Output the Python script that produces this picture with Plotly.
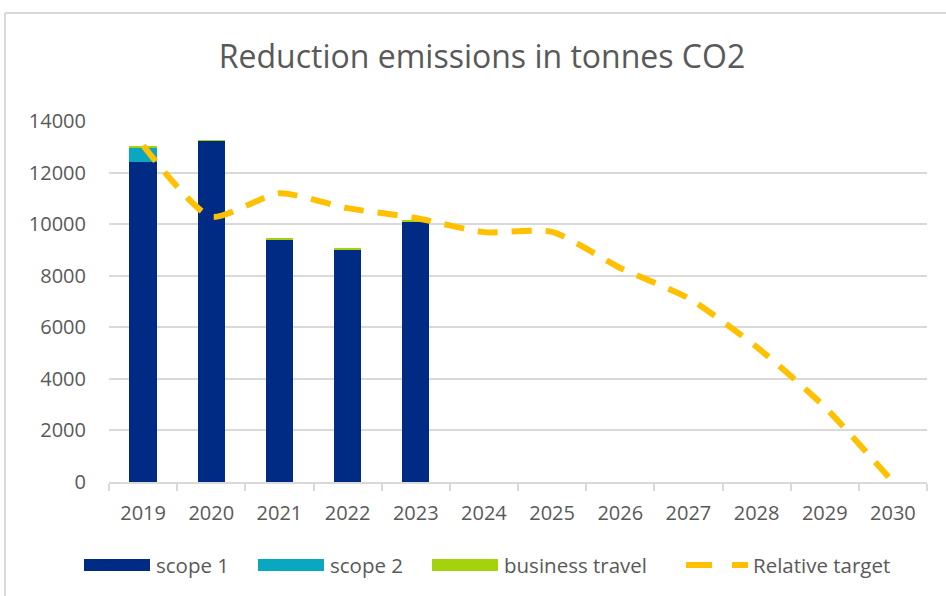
import plotly.graph_objects as go

years = ["2019", "2020", "2021", "2022", "2023", "2024", "2025", "2026", "2027", "2028", "2029", "2030"]
bar_years = ["2019", "2020", "2021", "2022", "2023"]
scope1 = [12400, 13230, 9400, 9000, 10100]
scope2 = [580, 0, 0, 0, 0]
business_travel = [40, 30, 60, 70, 60]
relative_target = [13050, 10290, 11200, 10620, 10240, 9690, 9700, 8300, 7130, 5240, 2910, 0]
y_ticks = [0, 2000, 4000, 6000, 8000, 10000, 12000, 14000]

series_names = ["scope 1", "scope 2", "business travel", "Relative target"]
colors = ["#002B84", "#0AA7C1", "#A4D30E", "#FFC000"]

font_family = "'Open Sans', sans-serif"
grey = "#595959"
W, H = 946, 596
L, R, T, B = 109, 19, 121, 114
PW, PH = W - L - R, H - T - B


def px_x(p):
    return (p - L) / PW


def px_y(p):
    return (H - B - p) / PH


fig = go.Figure()
for name, vals, col in zip(series_names[:3], [scope1, scope2, business_travel], colors[:3]):
    fig.add_trace(go.Bar(x=bar_years, y=vals, name=name, showlegend=False,
                         marker=dict(color=col, line=dict(width=0))))
fig.add_trace(go.Scatter(x=years, y=relative_target, name=series_names[3], mode="lines", showlegend=False,
                         line=dict(color=colors[3], width=6, dash="20px,14px", shape="spline", smoothing=0.6)))

# manual legend (wide Excel-style swatches)
shapes = []
annotations = []
legend_y = 565
swatch_x = [84, 258, 432]
for i in range(3):
    x0 = swatch_x[i]
    shapes.append(dict(type="rect", xref="paper", yref="paper",
                       x0=px_x(x0), x1=px_x(x0 + 66), y0=px_y(legend_y - 6), y1=px_y(legend_y + 6),
                       fillcolor=colors[i], line=dict(width=0)))
    annotations.append(dict(text=series_names[i], xref="paper", yref="paper", x=px_x(x0 + 70), y=px_y(legend_y),
                            xanchor="left", yanchor="middle", showarrow=False,
                            font=dict(size=20.5, color=grey, family=font_family)))
for d0, d1 in [(686, 712), (732, 748)]:
    shapes.append(dict(type="line", xref="paper", yref="paper", x0=px_x(d0), x1=px_x(d1),
                       y0=px_y(legend_y), y1=px_y(legend_y), line=dict(color=colors[3], width=6)))
annotations.append(dict(text=series_names[3], xref="paper", yref="paper", x=px_x(751), y=px_y(legend_y),
                        xanchor="left", yanchor="middle", showarrow=False,
                        font=dict(size=20.5, color=grey, family=font_family)))

# outer chart border (top and left, as in the screenshot)
shapes.append(dict(type="line", xref="paper", yref="paper", x0=px_x(5), x1=px_x(960),
                   y0=px_y(13), y1=px_y(13), line=dict(color="#D9D9D9", width=2)))
shapes.append(dict(type="line", xref="paper", yref="paper", x0=px_x(5), x1=px_x(5),
                   y0=px_y(13), y1=px_y(610), line=dict(color="#D9D9D9", width=2)))

fig.update_layout(
    barmode="stack",
    bargap=0.6,
    width=W, height=H,
    autosize=False,
    margin=dict(l=L, r=R, t=T, b=B, autoexpand=False),
    paper_bgcolor="white", plot_bgcolor="white",
    font=dict(family=font_family, color=grey, size=20),
    showlegend=False,
    title=dict(text="Reduction emissions in tonnes CO2", xref="container", x=482 / W, xanchor="center",
               yref="container", y=1 - 57 / H, yanchor="middle",
               font=dict(size=32, color=grey, family=font_family)),
    xaxis=dict(categoryorder="array", categoryarray=years, type="category", range=[-0.5, len(years) - 0.5],
               showline=True, linecolor="#D9D9D9", linewidth=2,
               ticks="outside", tickson="boundaries", ticklen=7, tickcolor="#D9D9D9", tickwidth=2,
               tickfont=dict(size=20, color=grey), showgrid=False, ticklabelstandoff=12),
    yaxis=dict(range=[0, 14000], tickvals=y_ticks, tickformat="d", showgrid=True, gridcolor="#D9D9D9",
               gridwidth=2, zeroline=False, showline=False, tickfont=dict(size=20, color=grey),
               ticklabelstandoff=22),
    shapes=shapes,
    annotations=annotations,
)

fig.write_html("out.html", config={"displayModeBar": False},
               post_script="document.body.style.margin='0px';document.body.style.overflow='hidden';")
